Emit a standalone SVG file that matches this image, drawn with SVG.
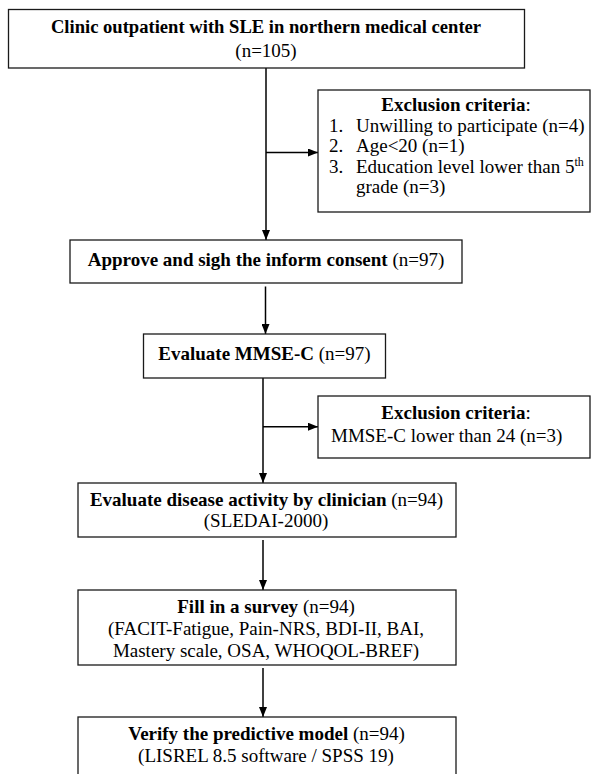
<svg xmlns="http://www.w3.org/2000/svg" width="593" height="774" viewBox="0 0 593 774">
  <defs>
    <style>
      .box { fill: #ffffff; stroke: #1a1a1a; stroke-width: 1.3; }
      .t { font-family: "Liberation Serif", "Times New Roman", serif; font-size: 19px; fill: #000000; }
      .c { text-anchor: middle; }
      .b { font-weight: bold; }
      .edge { fill: none; stroke: #000000; stroke-width: 1.5; }
      .sup { font-size: 12px; }
    </style>
    <marker id="arrow" markerUnits="userSpaceOnUse" markerWidth="10" markerHeight="8" refX="10" refY="4" orient="auto">
      <path d="M0,0 L10,4 L0,8 z" fill="#000000"/>
    </marker>
  </defs>
  <rect width="593" height="774" fill="#ffffff"/>

  <g id="connectors">
    <line class="edge" x1="266" y1="68" x2="266" y2="240" marker-end="url(#arrow)"/>
    <line class="edge" x1="266" y1="152.5" x2="318" y2="152.5" marker-end="url(#arrow)"/>
    <line class="edge" x1="265.5" y1="286.5" x2="265.5" y2="334" marker-end="url(#arrow)"/>
    <line class="edge" x1="263" y1="378" x2="263" y2="483" marker-end="url(#arrow)"/>
    <line class="edge" x1="263" y1="426.7" x2="318" y2="426.7" marker-end="url(#arrow)"/>
    <line class="edge" x1="263" y1="540" x2="263" y2="590" marker-end="url(#arrow)"/>
    <line class="edge" x1="263" y1="668" x2="263" y2="717" marker-end="url(#arrow)"/>
  </g>

  <g id="node-clinic">
    <rect class="box" x="8.5" y="9.5" width="516" height="58.5"/>
    <text class="t c b" x="266" y="32.5" style="font-size:18.6px">Clinic outpatient with SLE in northern medical center</text>
    <text class="t c" x="266" y="57">(n=105)</text>
  </g>

  <g id="node-exclusion1">
    <rect class="box" x="318" y="90" width="272" height="122"/>
    <text class="t c" x="456" y="111"><tspan class="b">Exclusion criteria</tspan>:</text>
    <text class="t" x="329" y="131.5">1.</text>
    <text class="t" x="356" y="131.5">Unwilling to participate (n=4)</text>
    <text class="t" x="329" y="152">2.</text>
    <text class="t" x="356" y="152">Age&lt;20 (n=1)</text>
    <text class="t" x="329" y="172.5">3.</text>
    <text class="t" x="356" y="172.5">Education level lower than 5<tspan class="sup" dy="-7">th</tspan></text>
    <text class="t" x="356" y="193">grade (n=3)</text>
  </g>

  <g id="node-consent">
    <rect class="box" x="70" y="240" width="392" height="43"/>
    <text class="t c" x="266" y="266"><tspan class="b">Approve and sigh the inform consent</tspan> (n=97)</text>
  </g>

  <g id="node-mmse">
    <rect class="box" x="143.5" y="334" width="242" height="44"/>
    <text class="t c" x="264.5" y="359.5"><tspan class="b">Evaluate MMSE-C</tspan> (n=97)</text>
  </g>

  <g id="node-exclusion2">
    <rect class="box" x="318" y="396" width="272" height="62"/>
    <text class="t c" x="456" y="418.5"><tspan class="b">Exclusion criteria</tspan>:</text>
    <text class="t" x="331" y="442">MMSE-C lower than 24 (n=3)</text>
  </g>

  <g id="node-disease">
    <rect class="box" x="78" y="483" width="378" height="54"/>
    <text class="t c" x="266.5" y="505.7"><tspan class="b">Evaluate disease activity by clinician</tspan> (n=94)</text>
    <text class="t c" x="266" y="527.3">(SLEDAI-2000)</text>
  </g>

  <g id="node-survey">
    <rect class="box" x="78" y="590" width="378" height="75"/>
    <text class="t c" x="266" y="613"><tspan class="b">Fill in a survey</tspan> (n=94)</text>
    <text class="t c" x="266" y="635">(FACIT-Fatigue, Pain-NRS, BDI-II, BAI,</text>
    <text class="t c" x="266" y="657">Mastery scale, OSA, WHOQOL-BREF)</text>
  </g>

  <g id="node-verify">
    <rect class="box" x="78" y="717" width="378" height="70"/>
    <text class="t c" x="266.5" y="740"><tspan class="b">Verify the predictive model</tspan> (n=94)</text>
    <text class="t c" x="266" y="762">(LISREL 8.5 software / SPSS 19)</text>
  </g>
</svg>
